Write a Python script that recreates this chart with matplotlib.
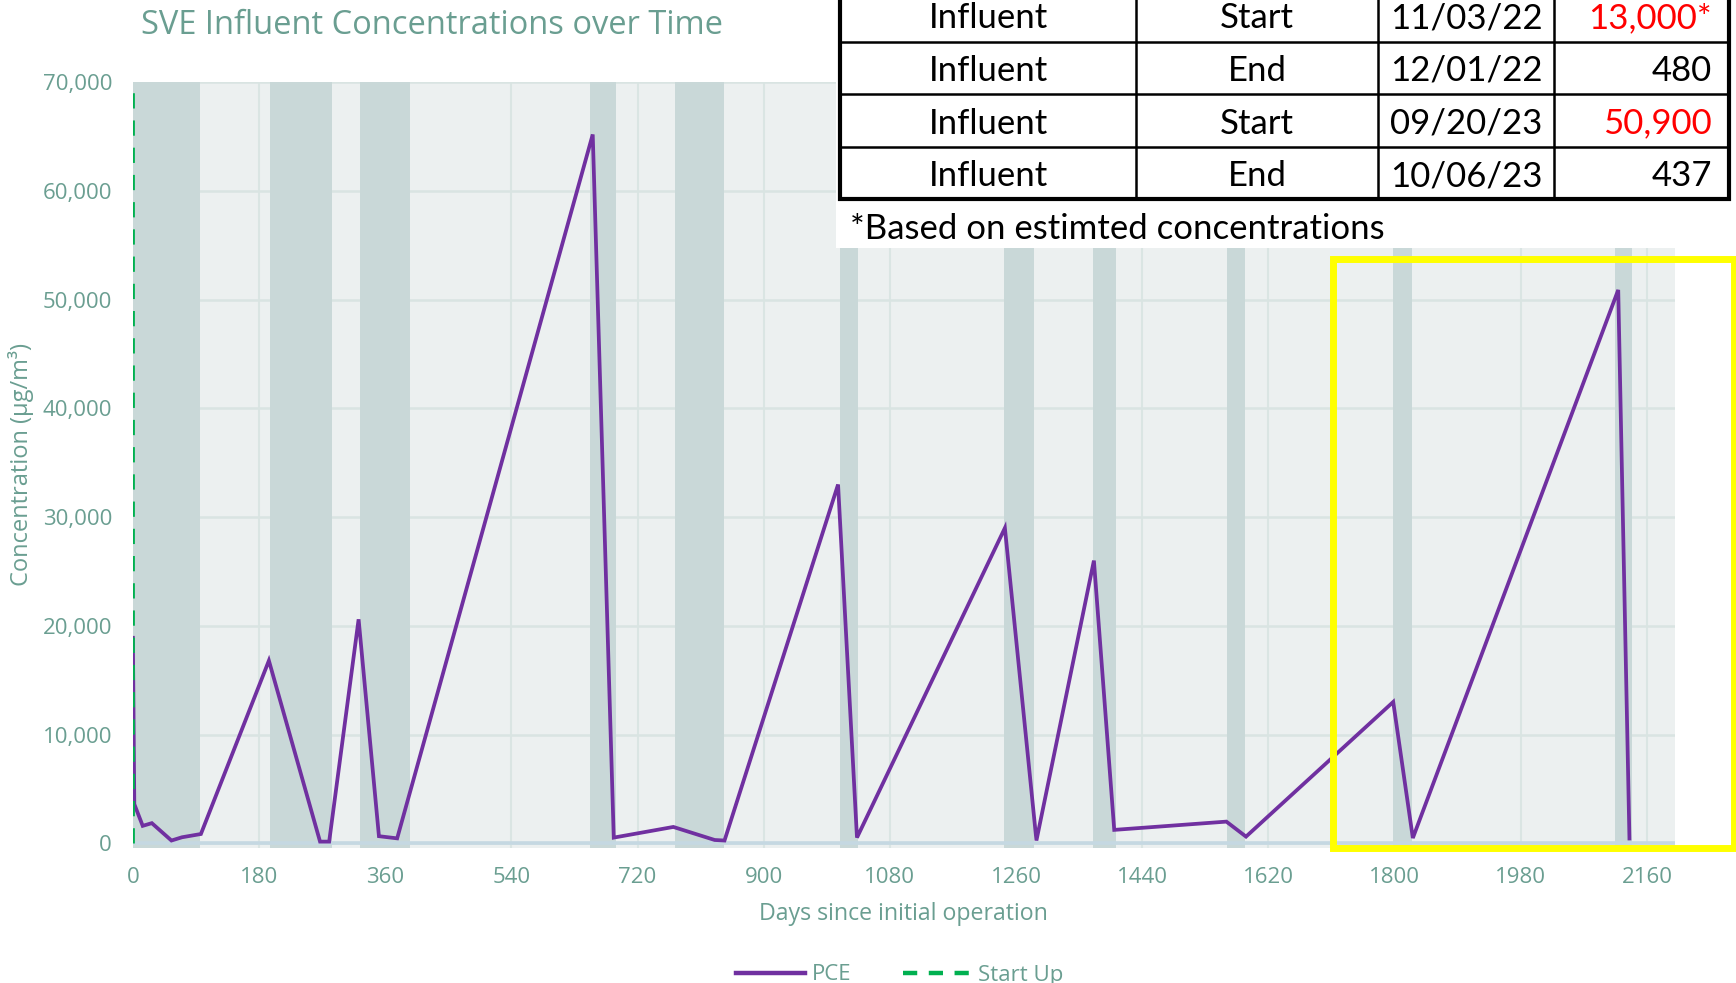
import matplotlib
matplotlib.use("Agg")
import matplotlib.pyplot as plt
from matplotlib.lines import Line2D
from matplotlib.patches import Rectangle, Arc
from matplotlib.ticker import FuncFormatter

# PCE influent data (days since start-up, ug/m3)
days = [0, 2, 14, 27, 55, 70, 97, 194, 267, 280, 322, 351, 377, 656, 686, 771,
        830, 844, 1006, 1033, 1244, 1289, 1371, 1400, 1560, 1588, 1798, 1826,
        2119, 2135]
pce = [18900, 3600, 1600, 1850, 250, 550, 850, 16800, 150, 150, 20600, 650, 450,
       65200, 520, 1500, 300, 250, 33000, 520, 29000, 250, 26000, 1230, 1990,
       610, 13000, 480, 50900, 437]

# shut-down periods (shaded)
off_start = [0, 196, 324, 652, 773, 1009, 1243, 1369, 1561, 1798, 2115]
off_end = [96, 284, 395, 689, 843, 1035, 1286, 1403, 1587, 1825, 2138]

startup_day = [0, 0]
startup_val = [0, 70000]

x_ticks = list(range(0, 2161, 180))
y_ticks = list(range(0, 70001, 10000))

# inset table
tbl_loc = ["Influent", "Influent", "Influent", "Influent"]
tbl_event = ["Start", "End", "Start", "End"]
tbl_date = ["11/03/22", "12/01/22", "09/20/23", "10/06/23"]
tbl_value = ["13,000*", "480", "50,900", "437"]
tbl_red = [True, False, True, False]
note = "*Based on estimted concentrations"

W, H = 1736, 983
TXT = "#6A9E91"
PURPLE = "#7030A0"
GREEN = "#00B050"

plt.rcParams['font.family'] = ['Open Sans', 'DejaVu Sans']

fig = plt.figure(figsize=(W / 100, H / 100), dpi=100)

# plot area in pixels
left, right, top, bottom = 132.9, 1675.0, 82.3, 847.6
ax = fig.add_axes([left / W, 1 - bottom / H, (right - left) / W, (bottom - top) / H])
ax.set_facecolor("#ECF0F0")
ax.set_xlim(0, 2200)
ax.set_ylim(-400, 70000)

for s, e in zip(off_start, off_end):
    ax.axvspan(s, e, color="#C9D8D8", lw=0, zorder=1)

for xv in x_ticks:
    ax.axvline(xv, color="#DAE5E3", lw=1.5, zorder=0.5)
for yv in y_ticks:
    ax.axhline(yv, color="#D9E4E2", lw=1.8, zorder=0.5)
ax.axhline(0, color="#C5D8E2", lw=2.6, zorder=2)

ax.plot(days, pce, color=PURPLE, lw=2.7, zorder=4, solid_joinstyle="miter")
ax.plot(startup_day, startup_val, color=GREEN, lw=2.0, dashes=(5.5, 4.3), zorder=5)

for sp in ax.spines.values():
    sp.set_visible(False)
ax.set_xticks(x_ticks)
ax.set_yticks(y_ticks)
ax.yaxis.set_major_formatter(FuncFormatter(lambda v, p: f"{int(v):,}"))
ax.tick_params(length=0, labelsize=16, colors=TXT)
ax.tick_params(axis="y", pad=15)
ax.tick_params(axis="x", pad=14)

fig.text(432 / W, 1 - 25 / H, "SVE Influent Concentrations over Time",
         ha="center", va="center", fontsize=23.5, color=TXT)
fig.text(903 / W, 1 - 914 / H, "Days since initial operation",
         ha="center", va="center", fontsize=16.7, color=TXT)
fig.text(21 / W, 1 - 464 / H, "Concentration (µg/m³)", rotation=90,
         ha="center", va="center", fontsize=17, color=TXT)

# legend
handles = [Line2D([], [], color=PURPLE, lw=3.2),
           Line2D([], [], color=GREEN, lw=3.2, dashes=(3.2, 2.6))]
fig.legend(handles, ["PCE", "Start Up"], loc="center", ncol=2,
           bbox_to_anchor=(900 / W, 1 - 975 / H), frameon=False,
           fontsize=16, labelcolor=TXT, handlelength=3.1,
           handletextpad=0.3, columnspacing=2.3)

# overlay in pixel coordinates for the pasted table and highlight box
ov = fig.add_axes([0, 0, 1, 1], zorder=10)
ov.set_xlim(0, W)
ov.set_ylim(H, 0)
ov.axis("off")
ov.patch.set_alpha(0)

for r in (177, 161):
    ov.add_patch(Arc((1556, 115), 2 * r, 2 * r, theta1=180, theta2=360,
                     color="#DCE2E2", lw=2.5, zorder=1))
ov.add_patch(Rectangle((836, -5), W - 836 + 5, 253, facecolor="white",
                       edgecolor="none", zorder=2))

col_x = [840.4, 1136.3, 1378, 1554, 1728.7]
row_y = [-11, 41.7, 94.3, 146.7, 199.3]
for x in col_x[1:-1]:
    ov.plot([x, x], [row_y[0], row_y[-1]], color="black", lw=1.8, zorder=3)
for y in row_y[1:-1]:
    ov.plot([col_x[0], col_x[-1]], [y, y], color="black", lw=1.8, zorder=3)
ov.add_patch(Rectangle((col_x[0], row_y[0]), col_x[-1] - col_x[0],
                       row_y[-1] - row_y[0], fill=False, edgecolor="black",
                       lw=3.0, zorder=3))

tfont = dict(fontsize=25, family=["Lato", "DejaVu Sans"], va="center", zorder=4)
for i in range(len(tbl_loc)):
    yc = (row_y[i] + row_y[i + 1]) / 2 + 3
    ov.text((col_x[0] + col_x[1]) / 2, yc, tbl_loc[i], ha="center", color="black", **tfont)
    ov.text((col_x[1] + col_x[2]) / 2, yc, tbl_event[i], ha="center", color="black", **tfont)
    ov.text((col_x[2] + col_x[3]) / 2, yc, tbl_date[i], ha="center", color="black", **tfont)
    ov.text(1712, yc, tbl_value[i], ha="right",
            color="#FF0000" if tbl_red[i] else "black", **tfont)
ov.text(850, 229, note, ha="left", color="black", **tfont)

ov.add_patch(Rectangle((1333, 258.5), 1734 - 1333, 847.5 - 258.5, fill=False,
                       edgecolor="#FFFF00", lw=5.0, zorder=5))

fig.savefig("out.png", dpi=100)
